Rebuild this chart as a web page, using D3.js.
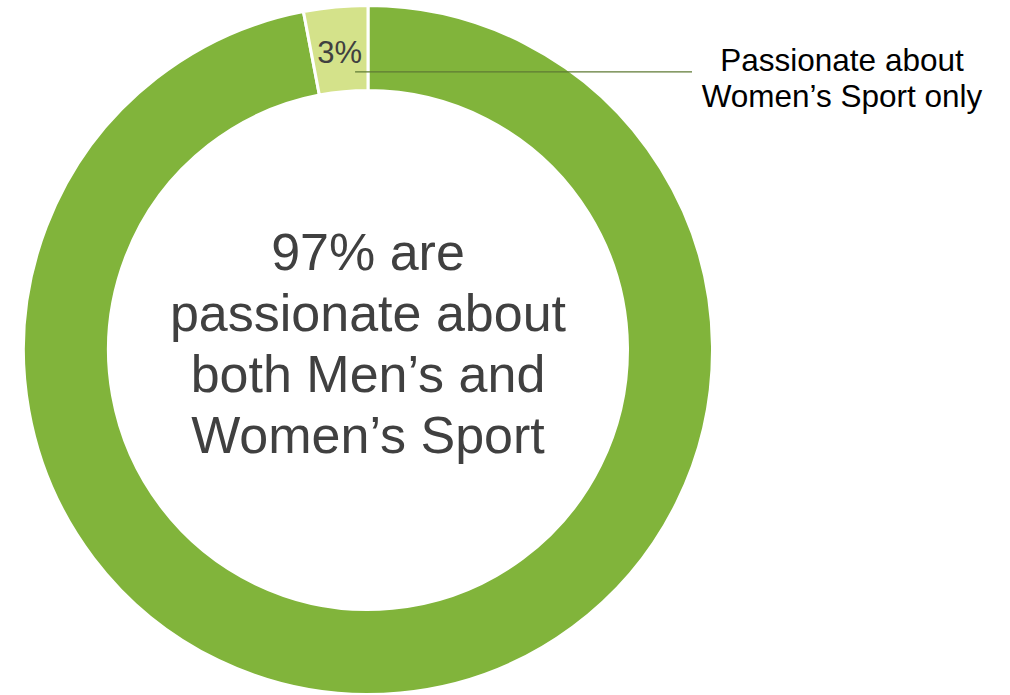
<!DOCTYPE html>
<html>
<head>
<meta charset="utf-8">
<script src="https://cdn.jsdelivr.net/npm/d3@7"></script>
<style>
  html, body { margin: 0; padding: 0; background: #ffffff; }
  svg { display: block; }
</style>
</head>
<body>
<svg id="chart" width="1010" height="695"></svg>
<script>
// Share of fans by what they are passionate about
const categories = ["Both Men's and Women's Sport", "Women's Sport only"];
const shares = [97, 3];
const sliceColors = ["#81b43b", "#d4e28a"];
const centerLines = ["97% are", "passionate about", "both Men\u2019s and", "Women\u2019s Sport"];
const calloutLines = ["Passionate about", "Women\u2019s Sport only"];

const svg = d3.select("#chart");
const cx = 368, cy = 350;
const outerR = 344.5, innerR = 259.5;

const pie = d3.pie().sort(null).value(d => d.value);
const arc = d3.arc().innerRadius(innerR).outerRadius(outerR);
const data = categories.map((c, i) => ({ name: c, value: shares[i], color: sliceColors[i] }));
const arcs = pie(data);

const g = svg.append("g").attr("transform", `translate(${cx},${cy})`);

g.selectAll("path.slice")
  .data(arcs)
  .join("path")
  .attr("class", "slice")
  .attr("d", arc)
  .attr("fill", d => d.data.color)
  .attr("stroke", "#ffffff")
  .attr("stroke-width", 3);

// Leader line from the small slice out to its callout
const small = arcs[1];
const [lx, ly] = arc.centroid(small);
const lineY = ly + 22.5;
g.append("line")
  .attr("x1", lx + 15.5).attr("y1", lineY)
  .attr("x2", 692 - cx).attr("y2", lineY)
  .attr("stroke", "#5f7a34")
  .attr("stroke-width", 1.3);

// Value label inside the small slice
g.append("text")
  .attr("x", lx)
  .attr("y", ly + 14)
  .attr("text-anchor", "middle")
  .attr("font-family", "Liberation Sans, Arial, sans-serif")
  .attr("font-size", 31)
  .attr("fill", "#404040")
  .text(d3.format(".0f")(small.data.value) + "%");

// Callout text
svg.append("text")
  .attr("text-anchor", "middle")
  .attr("font-family", "Liberation Sans, Arial, sans-serif")
  .attr("font-size", 31.5)
  .attr("fill", "#000000")
  .selectAll("tspan")
  .data(calloutLines)
  .join("tspan")
  .attr("x", 842)
  .attr("y", (d, i) => 70.5 + i * 36.5)
  .text(d => d);

// Centre statement
svg.append("text")
  .attr("text-anchor", "middle")
  .attr("font-family", "Liberation Sans, Arial, sans-serif")
  .attr("font-size", 52)
  .attr("fill", "#404040")
  .selectAll("tspan")
  .data(centerLines)
  .join("tspan")
  .attr("x", cx)
  .attr("y", (d, i) => 270 + i * 61)
  .text(d => d);
</script>
</body>
</html>
